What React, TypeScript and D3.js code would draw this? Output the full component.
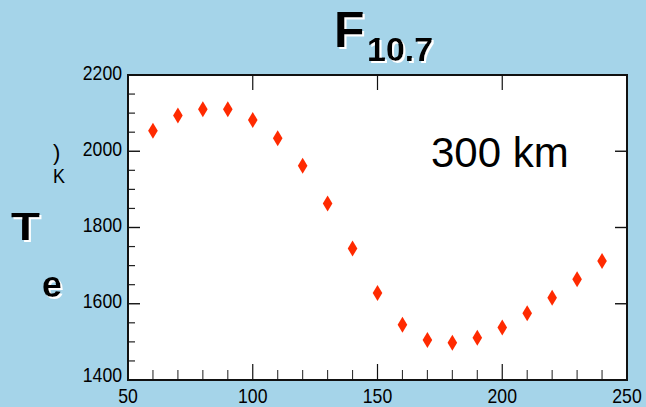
import React from "react";
import * as d3 from "d3";

const xValues = [60, 70, 80, 90, 100, 110, 120, 130, 140, 150, 160, 170, 180, 190, 200, 210, 220, 230, 240];
const teValues = [2054, 2094, 2110, 2110, 2082, 2034, 1962, 1863, 1745, 1628, 1545, 1505, 1498, 1511, 1538, 1575, 1616, 1664, 1712];
const xTicks = [50, 100, 150, 200, 250];
const yTicks = [1400, 1600, 1800, 2000, 2200];
const xMinorTicks = d3.range(50, 251, 10);
const yMinorTicks = d3.range(1400, 2201, 50);

const W = 646, H = 407;
const L = 128, R = 627, T = 75, B = 380;
const BG = "#a5d4e9";
const RED = "#ff2a00";
const SANS = "'Liberation Sans', Arial, sans-serif";

export default function App() {
  const x = d3.scaleLinear().domain([50, 250]).range([L, R]);
  const y = d3.scaleLinear().domain([1400, 2200]).range([B, T]);
  const diamond = (cx: number, cy: number) =>
    `M${cx},${cy - 8}L${cx + 4.8},${cy}L${cx},${cy + 8}L${cx - 4.8},${cy}Z`;

  return (
    <svg width={W} height={H} style={{ position: "absolute", left: 0, top: 0, display: "block" }}>
      <defs>
        <filter id="wshadow" x="-20%" y="-20%" width="150%" height="150%">
          <feOffset in="SourceAlpha" dx={2} dy={2} result="off" />
          <feFlood floodColor="#ffffff" />
          <feComposite in2="off" operator="in" result="sh" />
          <feMerge>
            <feMergeNode in="sh" />
            <feMergeNode in="SourceGraphic" />
          </feMerge>
        </filter>
      </defs>
      <rect x={0} y={0} width={W} height={H} fill={BG} />
      <rect x={L} y={T} width={R - L} height={B - T} fill="#fff" />

      {/* minor ticks */}
      {yMinorTicks.filter((v) => v % 200 !== 0).map((v) => (
        <line key={"ym" + v} x1={L} x2={L + 7} y1={y(v)} y2={y(v)} stroke="#222" strokeWidth={1.2} />
      ))}
      {yTicks.map((v) => (
        <g key={"yM" + v}>
          <line x1={L} x2={L + 12} y1={y(v)} y2={y(v)} stroke="#111" strokeWidth={1.4} />
          <line x1={R - 12} x2={R} y1={y(v)} y2={y(v)} stroke="#111" strokeWidth={1.4} />
        </g>
      ))}
      {xMinorTicks.filter((v) => v % 50 !== 0).map((v) => (
        <line key={"xm" + v} x1={x(v)} x2={x(v)} y1={B - 10} y2={B} stroke="#333" strokeWidth={1.1} />
      ))}
      {xTicks.map((v) => (
        <g key={"xM" + v}>
          <line x1={x(v)} x2={x(v)} y1={B - 16} y2={B} stroke="#111" strokeWidth={1.2} />
          <line x1={x(v)} x2={x(v)} y1={T} y2={T + 15} stroke="#111" strokeWidth={1.2} />
        </g>
      ))}

      <rect x={L} y={T} width={R - L} height={B - T} fill="none" stroke="#111" strokeWidth={2} />

      {xValues.map((v, i) => (
        <path key={"p" + v} d={diamond(x(v), y(teValues[i]))} fill={RED} />
      ))}

      {yTicks.map((v) => (
        <text key={"yl" + v} x={L - 6} y={y(v) + (v === 1400 ? 2 : 4.5)} textAnchor="end" fontFamily={SANS} fontSize={21}
          fill="#000" textLength={String(v).length * 9.8} lengthAdjust="spacingAndGlyphs">
          {v}
        </text>
      ))}
      {xTicks.map((v) => (
        <text key={"xl" + v} x={x(v)} y={403} textAnchor="middle" fontFamily={SANS} fontSize={21}
          fill="#000" textLength={String(v).length * 9.8} lengthAdjust="spacingAndGlyphs">
          {v}
        </text>
      ))}

      <text x={431} y={167} fontFamily={SANS} fontSize={42} fill="#000">300 km</text>

      {/* title */}
      <text fontFamily={SANS} fontWeight="bold" fill="#000" filter="url(#wshadow)">
        <tspan x={334} y={47} fontSize={50}>F</tspan>
        <tspan x={367} y={61} fontSize={34}>10.7</tspan>
      </text>

      {/* y label */}
      <text x={11} y={240} fontFamily={SANS} fontWeight="bold" fontSize={38} fill="#000"
        textLength={29} lengthAdjust="spacingAndGlyphs" filter="url(#wshadow)">T</text>
      <text x={42} y={297} fontFamily={SANS} fontWeight="bold" fontSize={36} fill="#000"
        filter="url(#wshadow)">e</text>
      <text x={53} y={160} fontFamily={SANS} fontSize={22} fill="#000">)</text>
      <text x={53} y={183} fontFamily={SANS} fontSize={21} fill="#000"
        textLength={12} lengthAdjust="spacingAndGlyphs">K</text>
    </svg>
  );
}
